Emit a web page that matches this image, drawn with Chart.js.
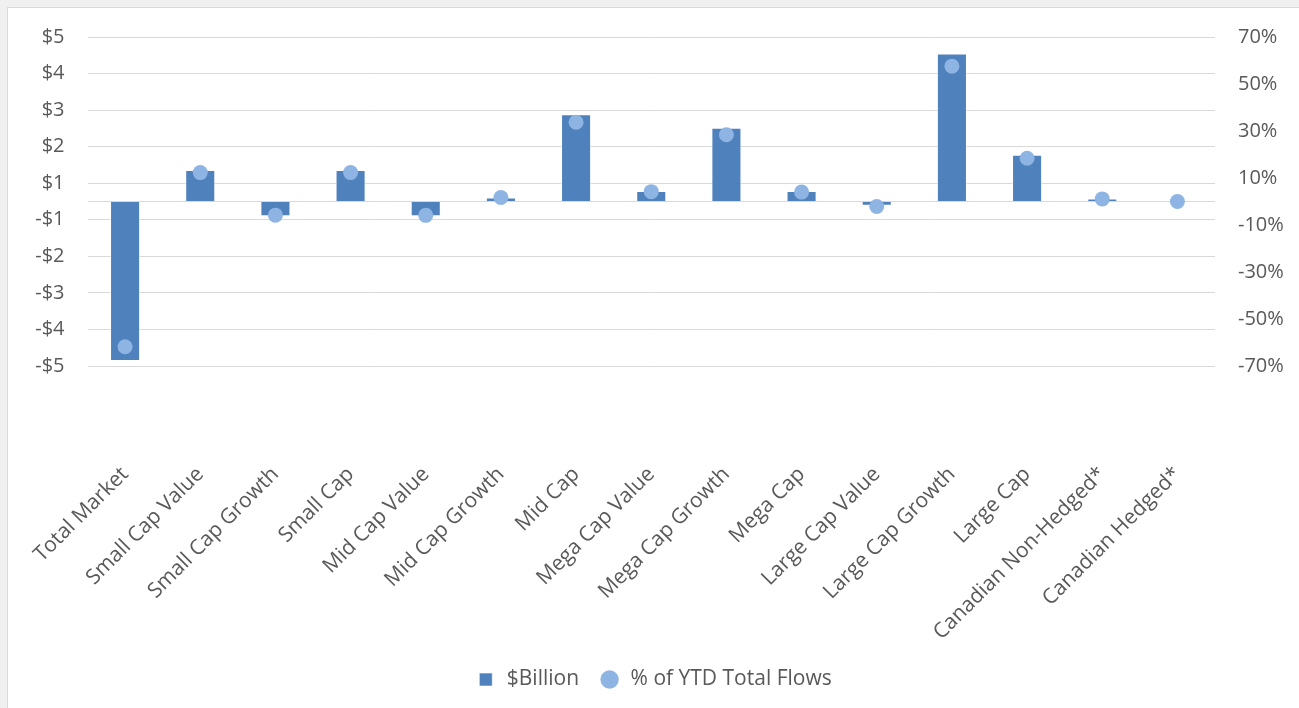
<!DOCTYPE html>
<html>
<head>
<meta charset="utf-8">
<script src="https://cdn.jsdelivr.net/npm/chart.js@4.4.1/dist/chart.umd.min.js"></script>
<style>
  html, body { margin: 0; padding: 0; background: #f0f0f0; overflow: hidden; }
  #box { position: absolute; left: 7px; top: 7px; width: 1300px; height: 710px;
         background: #fff; border: 1px solid #d9d9d9; }
  canvas { display: block; }
</style>
</head>
<body>
<div id="box"><canvas id="flows" width="1291" height="700"></canvas></div>
<script>
// values
var categories = ['Total Market', 'Small Cap Value', 'Small Cap Growth', 'Small Cap', 'Mid Cap Value',
  'Mid Cap Growth', 'Mid Cap', 'Mega Cap Value', 'Mega Cap Growth', 'Mega Cap', 'Large Cap Value',
  'Large Cap Growth', 'Large Cap', 'Canadian Non-Hedged*', 'Canadian Hedged*'];
var billions = [-4.85, 0.96, -0.45, 0.96, -0.45, 0.12, 2.65, 0.32, 2.24, 0.32, -0.13, 4.50, 1.42, 0.09, 0.0];
var pctOfYtd = [-61.8, 12.3, -5.8, 12.3, -5.9, 1.7, 33.7, 4.2, 28.4, 4.0, -2.1, 57.6, 18.4, 1.1, 0.0];
var leftTickLabels = ['$5', '$4', '$3', '$2', '$1', '-$1', '-$2', '-$3', '-$4', '-$5'];
var rightTickLabels = ['70%', '50%', '30%', '10%', '-10%', '-30%', '-50%', '-70%'];
var leftMin = -5, leftMax = 5;
var rightMin = -70, rightMax = 70;

var textColor = '#595959';
var gridColor = '#d9d9d9';
var font = { family: 'Open Sans', size: 20 };
var bigFont = { family: 'Open Sans', size: 21 };

// evenly spread labels over the axis range (Excel style), plus an unlabeled 0 line
function spreadTicks(labels, min, max, withZero) {
  var out = labels.map(function (lab, i) {
    return { value: max - i * (max - min) / (labels.length - 1), label: lab };
  });
  if (withZero) out.push({ value: 0, label: '' });
  return out;
}
var leftTicks = spreadTicks(leftTickLabels, leftMin, leftMax, true);
var rightTicks = spreadTicks(rightTickLabels, rightMin, rightMax, false);

function labelFor(list, v) {
  for (var i = 0; i < list.length; i++) {
    if (Math.abs(list[i].value - v) < 1e-6) return list[i].label;
  }
  return '';
}

function noPad(s) {
  s.paddingLeft = 0; s.paddingRight = 0; s.paddingTop = 0; s.paddingBottom = 0;
}

var ctx = document.getElementById('flows').getContext('2d');
var flowsChart = new Chart(ctx, {
  data: {
    labels: categories,
    datasets: [{
      type: 'bar',
      label: '$Billion',
      data: billions,
      yAxisID: 'y',
      backgroundColor: '#4f81bd',
      borderColor: 'rgba(255,255,255,0.6)',
      borderWidth: 1,
      barPercentage: 0.4,
      categoryPercentage: 1,
      pointStyle: 'rect',
      order: 2
    }, {
      type: 'line',
      label: '% of YTD Total Flows',
      data: pctOfYtd,
      yAxisID: 'y1',
      showLine: false,
      pointRadius: 7.5,
      pointHoverRadius: 7.5,
      pointBorderWidth: 0,
      pointBackgroundColor: '#8db4e2',
      backgroundColor: '#8db4e2',
      borderColor: '#8db4e2',
      pointStyle: 'circle',
      order: 1
    }]
  },
  options: {
    responsive: false,
    animation: false,
    layout: { padding: { top: 29, bottom: 8, left: 0, right: 0 } },
    plugins: {
      tooltip: { enabled: false },
      legend: {
        position: 'bottom',
        labels: {
          usePointStyle: true, boxHeight: 13, padding: 20, color: textColor, font: bigFont,
          sort: function (a, b) { return a.datasetIndex - b.datasetIndex; }
        }
      }
    },
    scales: {
      x: {
        grid: { display: false },
        border: { display: false },
        ticks: { color: textColor, font: bigFont, maxRotation: 45, minRotation: 45, autoSkip: false, padding: 88 },
        afterFit: function (s) { s.height = 283; noPad(s); }
      },
      y: {
        position: 'left',
        min: leftMin,
        max: leftMax,
        grid: { color: gridColor, lineWidth: 1, drawTicks: false },
        border: { display: false },
        afterBuildTicks: function (s) { s.ticks = leftTicks.map(function (t) { return { value: t.value }; }); },
        ticks: { color: textColor, font: font, padding: 23,
                 callback: function (v) { return labelFor(leftTicks, v); } },
        afterFit: function (s) { s.width = 79.5; noPad(s); }
      },
      y1: {
        position: 'right',
        min: rightMin,
        max: rightMax,
        grid: { display: false, drawTicks: false },
        border: { display: false },
        afterBuildTicks: function (s) { s.ticks = rightTicks.map(function (t) { return { value: t.value }; }); },
        ticks: { color: textColor, font: font, padding: 23,
                 callback: function (v) { return labelFor(rightTicks, v); } },
        afterFit: function (s) { s.width = 84; noPad(s); }
      }
    }
  }
});
</script>
</body>
</html>
